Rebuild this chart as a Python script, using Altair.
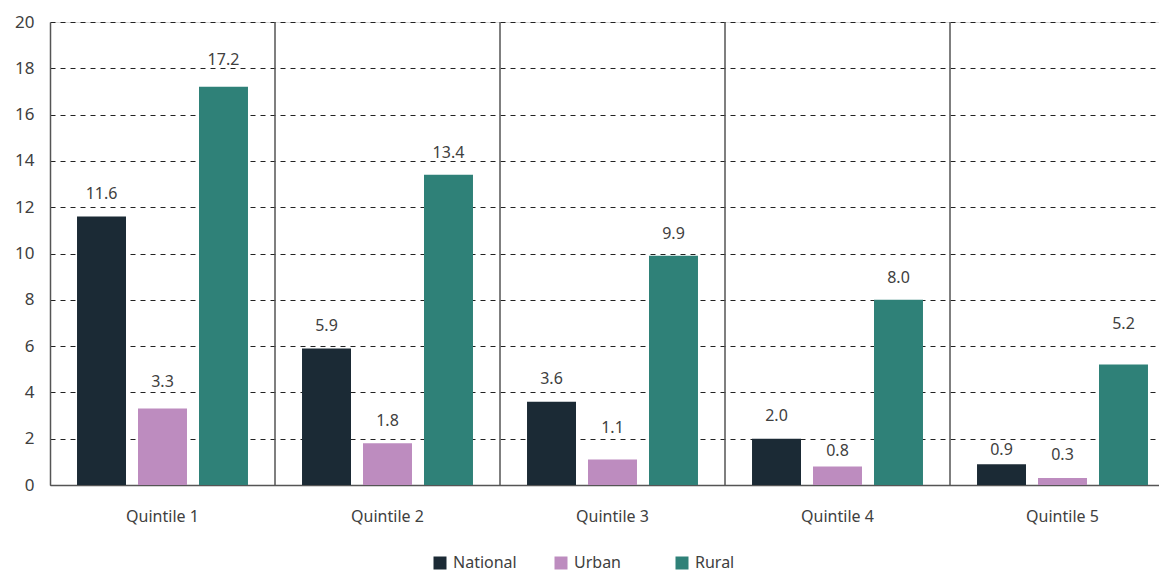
import altair as alt
import pandas as pd

quintiles = ["Quintile 1", "Quintile 2", "Quintile 3", "Quintile 4", "Quintile 5"]
series = ["National", "Urban", "Rural"]
national = [11.6, 5.9, 3.6, 2.0, 0.9]
urban = [3.3, 1.8, 1.1, 0.8, 0.3]
rural = [17.2, 13.4, 9.9, 8.0, 5.2]
# label heights (data units)
national_lab = [12.57, 6.87, 4.58, 2.98, 1.51]
urban_lab = [4.45, 2.76, 2.46, 1.47, 1.30]
rural_lab = [18.36, 14.34, 10.84, 8.94, 6.95]
colors = ["#1b2a35", "#bd8cbf", "#2f8178"]

rows = []
for s, vals, labs in zip(series, [national, urban, rural], [national_lab, urban_lab, rural_lab]):
    for q, v, l in zip(quintiles, vals, labs):
        rows.append({"q": q, "s": s, "v": v, "ly": l, "txt": f"{v:.1f}"})
df = pd.DataFrame(rows)
div = pd.DataFrame({"q": quintiles[1:], "y0": [0] * 4, "y1": [20] * 4})

FONT = "Noto Sans"
TXT = "#404040"

xscale = alt.Scale(domain=quintiles, range=[0, 1125], paddingInner=0, paddingOuter=0)
off_scale = alt.Scale(domain=series, paddingInner=0.197, paddingOuter=0.443)
yscale = alt.Scale(domain=[0, 20], nice=False)

x_axis = alt.Axis(labelAngle=0, ticks=False, labelPadding=23, labelFontSize=16,
                  labelColor=TXT, labelFont=FONT, domainColor="#555555",
                  labelAlign="center", bandPosition=0.5,
                  domainWidth=1.5, grid=False, title=None)
y_axis = alt.Axis(values=list(range(0, 21, 2)), ticks=False, labelPadding=16,
                  labelFontSize=17, labelColor=TXT, labelFont=FONT,
                  domainColor="#555555", domainWidth=1.5, title=None,
                  grid=True, gridColor="#222222", gridDash=[5, 5], gridWidth=1)

bars = alt.Chart(df).mark_bar().encode(
    x=alt.X("q:N", scale=xscale, sort=quintiles, title=None, axis=x_axis),
    xOffset=alt.XOffset("s:N", scale=off_scale, sort=series),
    y=alt.Y("v:Q", scale=yscale, title=None, axis=y_axis),
    color=alt.Color("s:N", scale=alt.Scale(domain=series, range=colors), sort=series,
                    legend=alt.Legend(title=None, orient="none", legendX=382, legendY=533,
                                      direction="horizontal", symbolType="square",
                                      symbolSize=169, symbolStrokeWidth=0,
                                      labelFontSize=16, labelColor=TXT, labelFont=FONT,
                                      columns=3, gridAlign="all", columnPadding=36,
                                      labelOffset=5)),
)

labels = alt.Chart(df).mark_text(fontSize=16, font=FONT, color=TXT, baseline="middle").encode(
    x=alt.X("q:N", scale=xscale, sort=quintiles, title=None, axis=x_axis),
    xOffset=alt.XOffset("s:N", scale=off_scale, sort=series),
    y=alt.Y("ly:Q", scale=yscale, title=None, axis=y_axis),
    text="txt:N",
)

dividers = alt.Chart(div).mark_rule(color="#555555", strokeWidth=1.5).encode(
    x=alt.X("q:N", scale=xscale, sort=quintiles, bandPosition=0, title=None, axis=x_axis),
    y=alt.Y("y0:Q", scale=yscale, title=None, axis=y_axis),
    y2="y1:Q",
)

chart = alt.layer(bars, dividers, labels).properties(
    width=1109, height=463,
    autosize=alt.AutoSizeParams(type="none"),
    padding={"left": 50, "top": 22, "right": 0, "bottom": 87},
).configure_view(stroke=None).configure(background="white")

chart.save("out.html", embed_options={"renderer": "svg", "actions": False})
